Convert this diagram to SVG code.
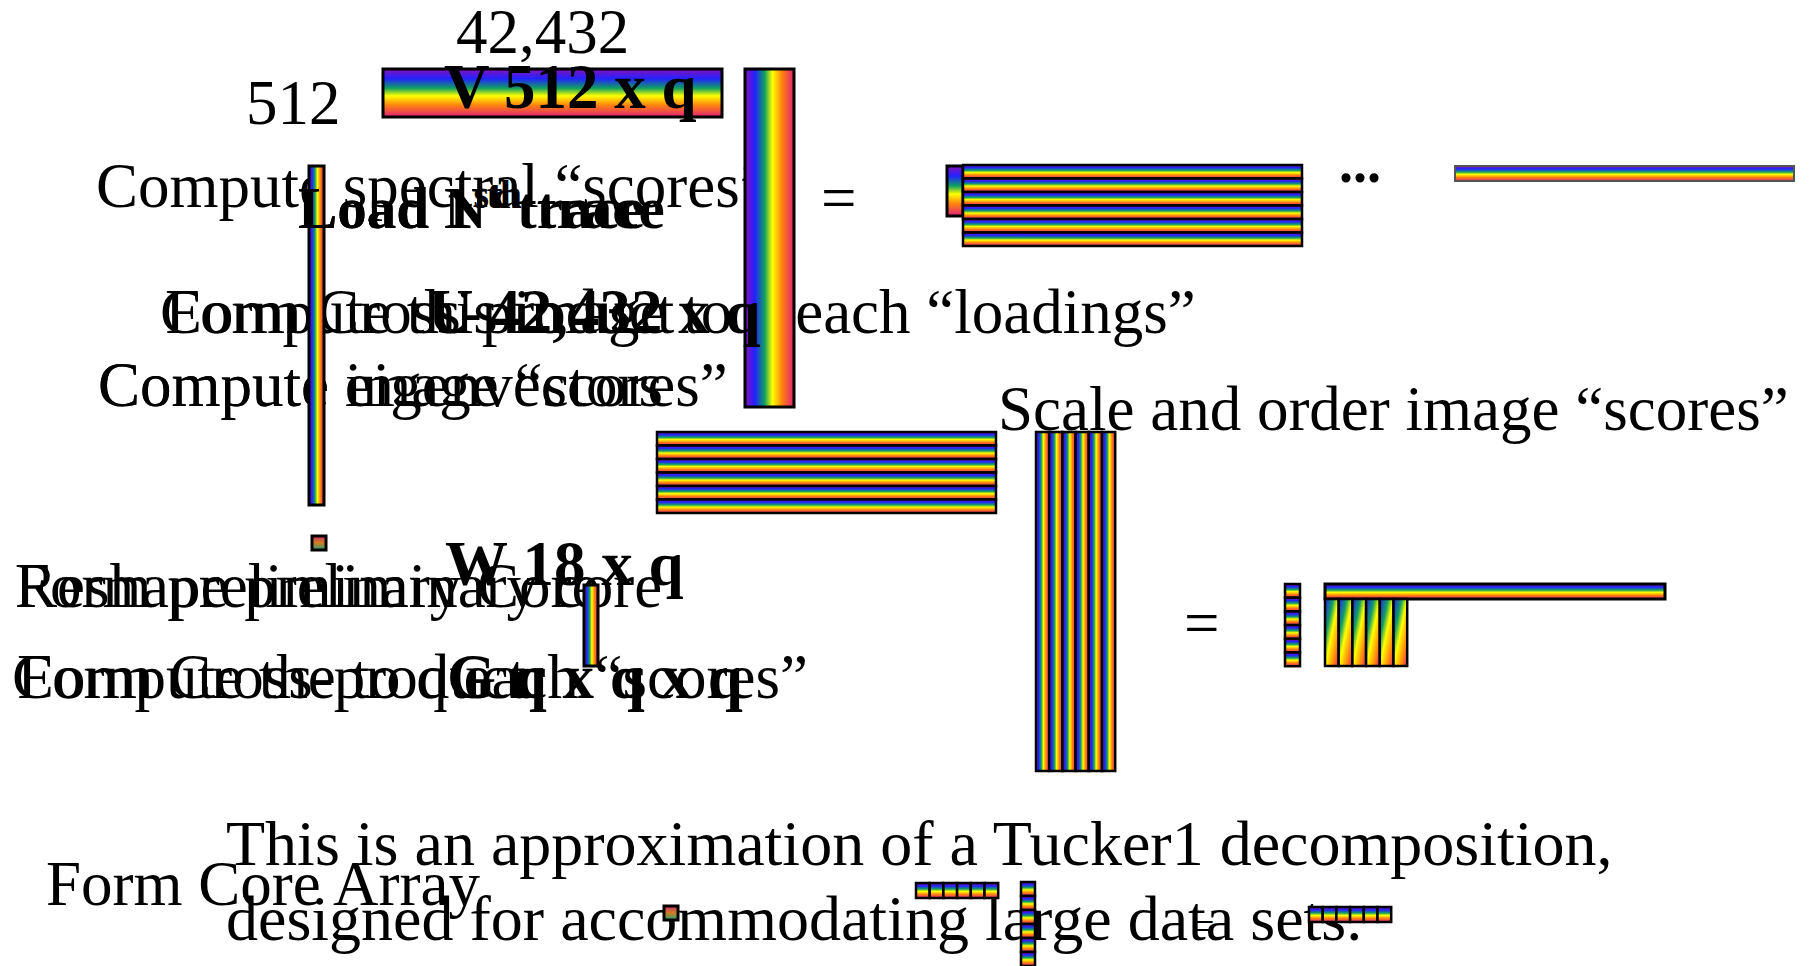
<svg xmlns="http://www.w3.org/2000/svg" width="1820" height="966" viewBox="0 0 1820 966">
<style>
text{font-family:"Liberation Serif","Times New Roman",serif;font-size:63px;fill:#000}
.b{font-weight:bold}
.cap{font-size:64px}
.ld{font-size:59px}
.dots{font-size:56px}
.sm{font-size:40px}
.bx{stroke:#000;stroke-width:3}
.st{stroke:#000;stroke-width:2.5}
.thin{stroke:#555;stroke-width:2}
</style>
<defs>
<linearGradient id="gv" x1="0" y1="0" x2="0" y2="1">
<stop offset="0" stop-color="#8a10b8"/><stop offset="0.2" stop-color="#2222ff"/><stop offset="0.4" stop-color="#10a060"/><stop offset="0.56" stop-color="#ffff00"/><stop offset="0.76" stop-color="#ff8010"/><stop offset="1" stop-color="#e0207a"/>
</linearGradient>
<linearGradient id="gh" x1="0" y1="0" x2="1" y2="0">
<stop offset="0" stop-color="#8a10b8"/><stop offset="0.2" stop-color="#2222ff"/><stop offset="0.4" stop-color="#10a060"/><stop offset="0.56" stop-color="#ffff00"/><stop offset="0.76" stop-color="#ff8010"/><stop offset="1" stop-color="#e0207a"/>
</linearGradient>
<linearGradient id="gd" x1="0" y1="0" x2="1" y2="1">
<stop offset="0" stop-color="#2222ff"/><stop offset="0.3" stop-color="#10a060"/><stop offset="0.5" stop-color="#ffff00"/><stop offset="0.8" stop-color="#ff8010"/><stop offset="1" stop-color="#e0207a"/>
</linearGradient>
<linearGradient id="gs" x1="0" y1="0" x2="0" y2="1">
<stop offset="0" stop-color="#d03070"/><stop offset="0.5" stop-color="#d08020"/><stop offset="1" stop-color="#20a080"/>
</linearGradient>
<rect id="hs" width="339" height="13.5" fill="url(#gv)" class="st"/>
<rect id="vs" width="13.2" height="339" fill="url(#gh)" class="st"/>
<rect id="seg" width="15" height="13.7" fill="url(#gv)" class="st"/>
<rect id="col" width="13.7" height="67" fill="url(#gd)" class="st"/>
<rect id="mini" width="13.7" height="15" fill="url(#gv)" class="st"/>
</defs>
<rect width="1820" height="966" fill="#fff"/>

<g id="step-texts">
<text x="96" y="207">Compute spectral “scores”</text>
<text x="165" y="333">Form Cross-product</text>
<text x="160" y="333">Compute this image to q each “loadings”</text>
<text x="98" y="406">Compute eigenvectors</text>
<text x="98" y="406">Compute image “scores”</text>
<text x="998" y="430">Scale and order image “scores”</text>
<text x="15" y="607">Reshape preliminary core</text>
<text x="15" y="607">Form preliminary Core</text>
<text x="12" y="698">Compute the to q each “scores”</text>
<text x="17" y="698">Form Cross-product</text>
<text x="46" y="905">Form Core Array</text>
</g>

<g id="caption">
<text x="226" y="865" class="cap">This is an approximation of a Tucker1 decomposition,</text>
<text x="226" y="940" class="cap">designed for accommodating large data sets.</text>
</g>

<g id="dims">
<text x="456" y="53">42,432</text>
<text x="246" y="124">512</text>
</g>

<g id="matrix-V">
<rect x="383" y="69" width="339" height="48" fill="url(#gv)" class="bx"/>
</g>
<g id="matrix-U">
<rect x="745" y="69" width="49" height="338" fill="url(#gh)" class="bx"/>
</g>
<g id="trace">
<rect x="309" y="166" width="15" height="339" fill="url(#gh)" class="bx"/>
<rect x="312" y="536" width="14" height="14" fill="url(#gs)" class="bx"/>
</g>

<g id="eq1">
<text x="821" y="219">=</text>
<rect x="947" y="166" width="16" height="50" fill="url(#gv)" class="bx"/>
<use href="#hs" x="963" y="165"/>
<use href="#hs" x="963" y="178.5"/>
<use href="#hs" x="963" y="192"/>
<use href="#hs" x="963" y="205.5"/>
<use href="#hs" x="963" y="219"/>
<use href="#hs" x="963" y="232.5"/>
<text x="1339" y="182" class="b dots">...</text>
<rect x="1455" y="166" width="339" height="15" fill="url(#gv)" class="thin"/>
</g>

<g id="image-scores">
<use href="#hs" x="657" y="432"/>
<use href="#hs" x="657" y="445.5"/>
<use href="#hs" x="657" y="459"/>
<use href="#hs" x="657" y="472.5"/>
<use href="#hs" x="657" y="486"/>
<use href="#hs" x="657" y="499.5"/>
</g>

<g id="scaled-scores">
<use href="#vs" x="1036" y="432"/>
<use href="#vs" x="1049.2" y="432"/>
<use href="#vs" x="1062.4" y="432"/>
<use href="#vs" x="1075.6" y="432"/>
<use href="#vs" x="1088.8" y="432"/>
<use href="#vs" x="1102" y="432"/>
</g>

<g id="eq2">
<text x="1184" y="644">=</text>
<use href="#seg" x="1285" y="584"/>
<use href="#seg" x="1285" y="597.7"/>
<use href="#seg" x="1285" y="611.4"/>
<use href="#seg" x="1285" y="625.1"/>
<use href="#seg" x="1285" y="638.8"/>
<use href="#seg" x="1285" y="652.5"/>
<rect x="1325" y="584" width="340" height="15" fill="url(#gv)" class="bx"/>
<use href="#col" x="1325" y="599"/>
<use href="#col" x="1338.7" y="599"/>
<use href="#col" x="1352.4" y="599"/>
<use href="#col" x="1366.1" y="599"/>
<use href="#col" x="1379.8" y="599"/>
<use href="#col" x="1393.5" y="599"/>
</g>

<g id="matrix-W">
<rect x="584" y="585" width="14" height="81" fill="url(#gh)" class="bx"/>
</g>

<g id="core-array">
<rect x="664" y="906" width="14" height="14" fill="url(#gs)" class="bx"/>
<use href="#mini" x="916" y="883"/>
<use href="#mini" x="929.7" y="883"/>
<use href="#mini" x="943.4" y="883"/>
<use href="#mini" x="957.1" y="883"/>
<use href="#mini" x="970.8" y="883"/>
<use href="#mini" x="984.5" y="883"/>
<rect x="1021" y="882" width="14" height="14" fill="url(#gv)" class="st"/>
<rect x="1021" y="896" width="14" height="14" fill="url(#gv)" class="st"/>
<rect x="1021" y="910" width="14" height="14" fill="url(#gv)" class="st"/>
<rect x="1021" y="924" width="14" height="14" fill="url(#gv)" class="st"/>
<rect x="1021" y="938" width="14" height="14" fill="url(#gv)" class="st"/>
<rect x="1021" y="952" width="14" height="14" fill="url(#gv)" class="st"/>
<text x="1192" y="940" class="sm">=</text>
<use href="#mini" x="1309" y="907"/>
<use href="#mini" x="1322.7" y="907"/>
<use href="#mini" x="1336.4" y="907"/>
<use href="#mini" x="1350.1" y="907"/>
<use href="#mini" x="1363.8" y="907"/>
<use href="#mini" x="1377.5" y="907"/>
</g>

<g id="labels">
<text x="444" y="108" class="b">V 512 x q</text>
<text x="298" y="228" class="b ld">Load 1<tspan font-size="40" dy="-20">st</tspan><tspan dy="20"> trace</tspan></text>
<text x="298" y="228" class="b ld">Load N<tspan font-size="40" dy="-20">th</tspan><tspan dy="20"> trace</tspan></text>
<text x="428" y="333" class="b">U 42,432 x q</text>
<text x="445" y="585" class="b">W 18 x q</text>
<text x="447" y="698" class="b">G q x q x q</text>
</g>
</svg>
